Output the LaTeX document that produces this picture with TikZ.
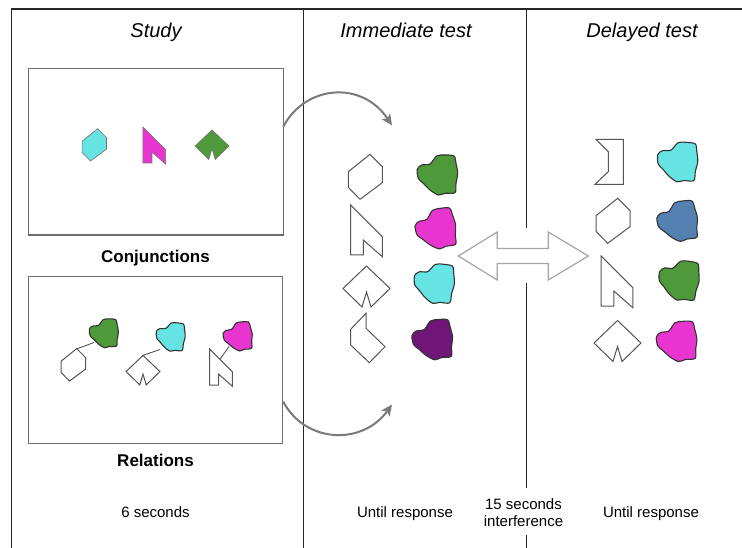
\documentclass[tikz,border=0pt]{standalone}
\usepackage{fontspec}
\setmainfont{Liberation Sans}
\usetikzlibrary{arrows.meta}
\definecolor{cyanfill}{RGB}{102,227,227}
\definecolor{magfill}{RGB}{233,53,207}
\definecolor{greenfill}{RGB}{78,154,58}
\definecolor{purplefill}{RGB}{112,22,120}
\definecolor{bluefill}{RGB}{84,128,178}
\definecolor{boxgray}{RGB}{110,110,110}
\definecolor{arrowgray}{RGB}{122,122,122}
\definecolor{dbgray}{RGB}{165,165,165}
\definecolor{outl}{RGB}{85,85,85}
\tikzset{
  divider/.style={draw=black!85, line width=1.5pt},
  panel/.style={draw=boxgray, line width=1.3pt, fill=none, inner sep=0pt},
  header/.style={anchor=base, font=\fontsize{20}{24}\selectfont\itshape},
  boxlabel/.style={anchor=base, font=\fontsize{17}{20}\selectfont\bfseries},
  timelabel/.style={anchor=base, font=\fontsize{15}{17.4}\selectfont, align=center},
  whiteshape/.style={draw=outl, line width=1pt, fill=white, line join=miter},
  colshape/.style={draw=black!55, line width=0.6pt, fill=#1},
  blobstyle/.style={draw=black!80, line width=1.1pt, fill=#1},
  curvarrow/.style={draw=arrowgray, line width=2pt, -{Stealth[length=11pt,width=10pt,inset=2.5pt]}},
  link/.style={draw=outl, line width=0.9pt},
  hexa/.pic={\path[pic actions] (4.7,-22.7)--(17,-10.3)--(17,5.7)--(-5.3,22.3)--(-17,10.3)--(-17,-5.3)--cycle;},
  flagshape/.pic={\path[pic actions] (-15.8,-25)--(15.8,6.7)--(15.8,26.7)--(-3.2,10)--(-3.2,25)--(-15.8,25)--cycle;},
  notchdiamond/.pic={\path[pic actions] (0,-21)--(23.5,1.5)--(4.5,20)--(0,5)--(-4.5,20)--(-23.5,1.5)--cycle;},
  houseshape/.pic={\path[pic actions] (-2,-24.7)--(-17.3,-8.7)--(-17.3,7)--(1.3,24.7)--(17,8.7)--(-2,-9.7)--cycle;},
  bracketshape/.pic={\path[pic actions] (-13.5,-22.7)--(13.8,-22.7)--(13.8,22.3)--(-14.5,22.3)--(-1.2,9.7)--(-1.2,-10.3)--cycle;},
  blob/.pic={\path[pic actions] plot[smooth cycle, tension=0.5] coordinates {(-19.4,-5.7) (-15,-10) (-6.7,-11) (0,-19) (8.3,-20) (17.3,-19) (19.3,-11.7) (21,-1.7) (19.3,8.3) (18.3,17.7) (8.3,18.3) (1.6,20) (-6.7,15) (-13.4,8.3) (-18.4,3.3)};},
}
\begin{document}
\begin{tikzpicture}[x=1pt,y=-1pt]
\useasboundingbox (0,0) rectangle (742,548);
\fill[white] (0,0) rectangle (742,548);

% frame and dividers
\draw[divider] (742,9) -- (11.5,9) -- (11.5,548);
\draw[divider] (303.5,9) -- (303.5,548);
\draw[divider] (526.5,9) -- (526.5,228);
\draw[divider] (526.5,283) -- (526.5,488);
\draw[divider] (526.5,535) -- (526.5,548);

% headers
\node[header] (hstudy) at (156,38) {Study};
\node[header] (himm) at (406,38) {Immediate test};
\node[header] (hdel) at (642,38) {Delayed test};

% study boxes
\node[panel, minimum width=255pt, minimum height=166.7pt] (conjbox) at (155.8,151.7) {};
\node[panel, minimum width=254.4pt, minimum height=166.6pt] (relbox) at (155.5,360) {};
\node[boxlabel] (conjlabel) at (155.5,263) {Conjunctions};
\node[boxlabel] (rellabel) at (155.5,466.7) {Relations};

% conjunction shapes
\pic[colshape=cyanfill, scale=0.72] at (94.3,145) {hexa};
\pic[colshape=magfill, scale=0.72] at (154.3,145) {flagshape};
\pic[colshape=greenfill, scale=0.72] at (212,145) {notchdiamond};

% relation shapes
\coordinate (r1a) at (76.7,348.9);
\coordinate (r1b) at (94,342.5);
\coordinate (r2a) at (143,355.4);
\coordinate (r2b) at (160,349.5);
\coordinate (r3a) at (220,359.4);
\coordinate (r3b) at (229,346.5);
\draw[link] (r1a) -- (r1b);
\draw[link] (r2a) -- (r2b);
\draw[link] (r3a) -- (r3b);
\pic[whiteshape, scale=0.72] at (73.3,365) {hexa};
\pic[whiteshape, scale=0.72] at (143,370.5) {notchdiamond};
\pic[whiteshape, scale=0.72] at (221,367) {flagshape};
\pic[blobstyle=greenfill, scale=0.72] at (103.3,333.3) {blob};
\pic[blobstyle=cyanfill, scale=0.72, rotate=-5] at (170,336.7) {blob};
\pic[blobstyle=magfill, scale=0.72, rotate=5] at (237.3,336.7) {blob};

% curved arrows
\coordinate (a1s) at (283.3,126.7);
\coordinate (a1e) at (392,125.5);
\coordinate (a2s) at (283.3,401.7);
\coordinate (a2e) at (392,404.5);
\draw[curvarrow] (a1s) .. controls (305,85) and (362,80) .. (a1e);
\draw[curvarrow] (a2s) .. controls (305,443) and (362,446) .. (a2e);

% immediate test
\pic[whiteshape] at (365.3,177) {hexa};
\pic[whiteshape] at (366.5,230) {flagshape};
\pic[whiteshape] at (366.5,287) {notchdiamond};
\pic[whiteshape] at (368,338) {houseshape};
\pic[blobstyle=greenfill] at (436.7,175) {blob};
\pic[blobstyle=magfill, rotate=8] at (435,229.3) {blob};
\pic[blobstyle=cyanfill, rotate=-6] at (433.3,283.3) {blob};
\pic[blobstyle=purplefill, rotate=4] at (431.7,340) {blob};

% double arrow
\draw[draw=dbgray, line width=1.2pt, fill=white, line join=miter]
  (458.3,256) -- (497.3,232) -- (497.3,248.5) -- (548.3,248.5) -- (548.3,232)
  -- (588.3,256) -- (548.3,280) -- (548.3,263.5) -- (497.3,263.5) -- (497.3,280) -- cycle;

% delayed test
\pic[whiteshape] at (609.5,162) {bracketshape};
\pic[whiteshape] at (613,221) {hexa};
\pic[whiteshape] at (617,281) {flagshape};
\pic[whiteshape] at (617.5,341.5) {notchdiamond};
\pic[blobstyle=cyanfill, rotate=-4] at (676.7,161.7) {blob};
\pic[blobstyle=bluefill, rotate=6] at (676.7,221.7) {blob};
\pic[blobstyle=greenfill, rotate=-8] at (678,280) {blob};
\pic[blobstyle=magfill, rotate=3] at (676,341.7) {blob};

% time labels
\node[timelabel] (t1) at (155.5,517.3) {6 seconds};
\node[timelabel] (t2) at (405,517.5) {Until response};
\node[timelabel] (t3) at (523.5,509.3) {15 seconds};
\node[timelabel] (t3b) at (523.5,526.7) {interference};
\node[timelabel] (t4) at (651,517.5) {Until response};
\end{tikzpicture}
\end{document}
